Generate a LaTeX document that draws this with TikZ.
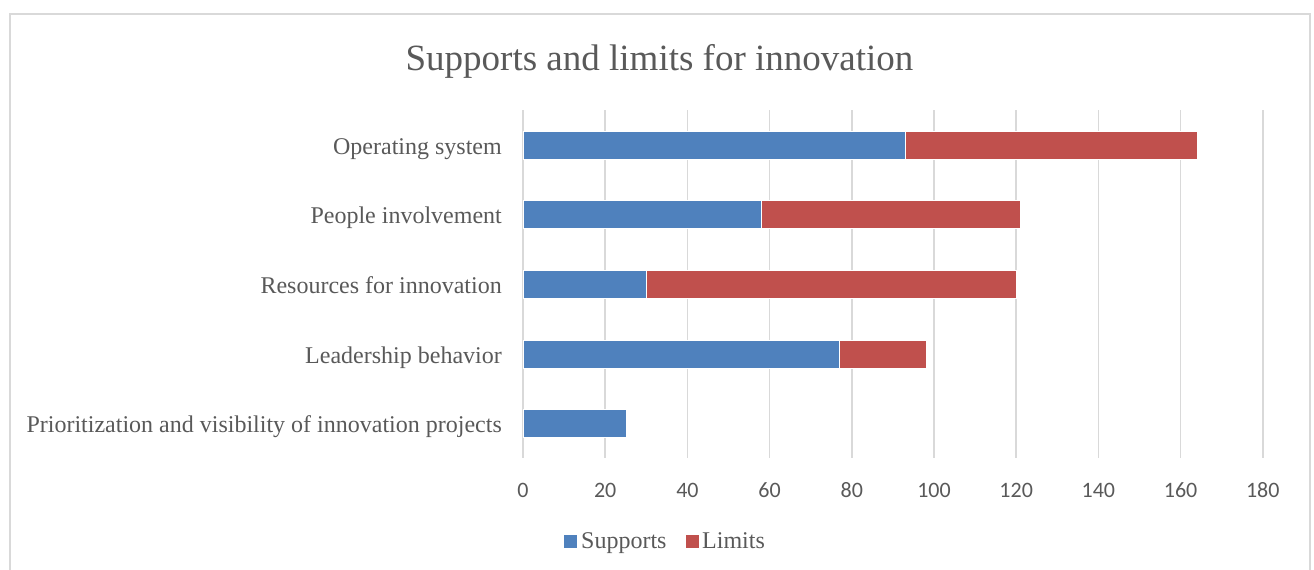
\documentclass[tikz,border=0pt]{standalone}
\usepackage{fontspec}
\usetikzlibrary{positioning}
\setmainfont{Liberation Serif}
\newfontfamily\axisfont{Carlito}
\definecolor{supportblue}{HTML}{4F81BD}
\definecolor{limitred}{HTML}{C0504D}
\definecolor{gridgray}{HTML}{D9D9D9}
\definecolor{textgray}{HTML}{595959}
\tikzset{
  catlabel/.style={anchor=base east, inner sep=0pt, text=textgray, font=\fontsize{24}{28}\selectfont},
  ticklabel/.style={anchor=base, inner sep=0pt, text=textgray, font=\axisfont\fontsize{22}{26}\selectfont},
  keylabel/.style={anchor=base west, inner sep=0pt, text=textgray, font=\fontsize{24}{28}\selectfont},
  gridline/.style={draw=gridgray, line width=1.5pt},
  supports/.style={fill=supportblue, draw=white, line width=0.4pt},
  limits/.style={fill=limitred, draw=white, line width=0.4pt},
}
\begin{document}
\begin{tikzpicture}[x=1pt, y=-1pt]
  \useasboundingbox (0,0) rectangle (1314,570);
  \draw[gridgray, line width=1.5pt] (10,572) -- (10,14) -- (1310,14) -- (1310,572);
  \node[anchor=base, text=textgray, inner sep=0pt, font=\fontsize{37}{42}\selectfont] (title) at (659.5,70) {Supports and limits for innovation};

  % value axis: 1 unit = 4.11px, origin at x=523
  \begin{scope}[x=4.11pt, xshift=523pt]
    \draw[gridline] (0,110) -- (0,458);
    \draw[gridline] (20,110) -- (20,458);
    \draw[gridline] (40,110) -- (40,458);
    \draw[gridline] (60,110) -- (60,458);
    \draw[gridline] (80,110) -- (80,458);
    \draw[gridline] (100,110) -- (100,458);
    \draw[gridline] (120,110) -- (120,458);
    \draw[gridline] (140,110) -- (140,458);
    \draw[gridline] (160,110) -- (160,458);
    \draw[gridline] (180,110) -- (180,458);
    \node[ticklabel] (t0) at (0,497) {0};
    \node[ticklabel] (t20) at (20,497) {20};
    \node[ticklabel] (t40) at (40,497) {40};
    \node[ticklabel] (t60) at (60,497) {60};
    \node[ticklabel] (t80) at (80,497) {80};
    \node[ticklabel] (t100) at (100,497) {100};
    \node[ticklabel] (t120) at (120,497) {120};
    \node[ticklabel] (t140) at (140,497) {140};
    \node[ticklabel] (t160) at (160,497) {160};
    \node[ticklabel] (t180) at (180,497) {180};
    % bars
    \draw[supports] (0,131) rectangle (93,159);
    \draw[limits] (93,131) rectangle (164,159);
    \draw[supports] (0,200) rectangle (58,228);
    \draw[limits] (58,200) rectangle (121,228);
    \draw[supports] (0,270) rectangle (30,298);
    \draw[limits] (30,270) rectangle (120,298);
    \draw[supports] (0,340) rectangle (77,368);
    \draw[limits] (77,340) rectangle (98,368);
    \draw[supports] (0,409) rectangle (25,437);
  \end{scope}

  \node[catlabel] (opsys) at (502,154) {Operating system};
  \node[catlabel] (people) at (502,223) {People involvement};
  \node[catlabel] (resources) at (502,293) {Resources for innovation};
  \node[catlabel] (leader) at (502,363) {Leadership behavior};
  \node[catlabel] (prior) at (502,432) {Prioritization and visibility of innovation projects};

  % legend
  \node[fill=supportblue, minimum size=12.5pt, inner sep=0pt] (keysup) at (570.5,541.5) {};
  \node[keylabel] (labsup) at (581,548) {Supports};
  \node[fill=limitred, minimum size=12.5pt, inner sep=0pt] (keylim) at (692.5,541.5) {};
  \node[keylabel] (lablim) at (702,548) {Limits};
\end{tikzpicture}
\end{document}
